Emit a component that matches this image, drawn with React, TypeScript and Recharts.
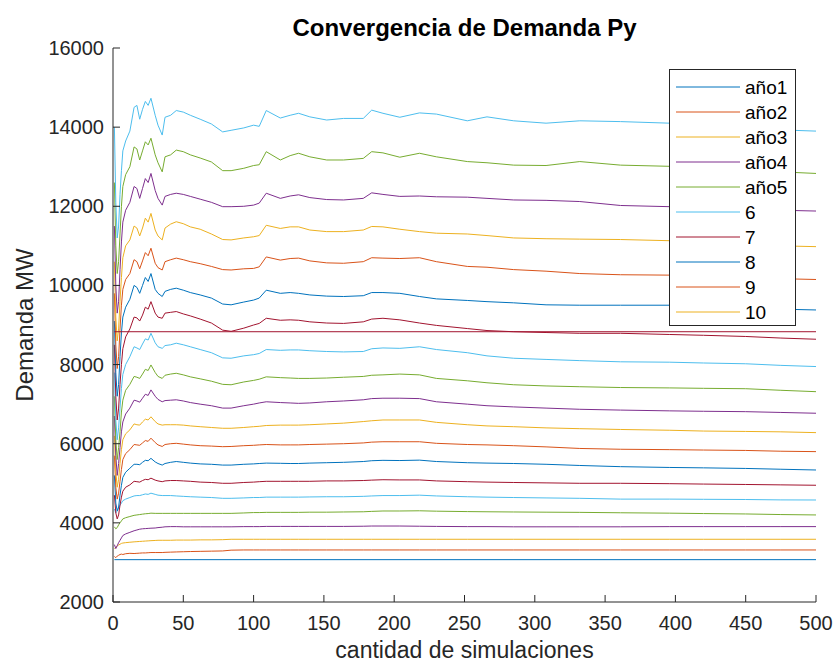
import React from "react";
import { LineChart, Line, XAxis, YAxis } from "recharts";

const SIMS = [
  1, 2, 3, 4, 5, 6, 7, 9, 12, 15, 17, 19, 21, 23, 25, 27, 30, 32, 35, 37, 41,
  45, 50, 55, 62, 70, 78, 84, 93, 100, 104, 109, 119, 126, 132, 140, 152, 164,
  178, 184, 192, 204, 218, 230, 252, 266, 285, 308, 332, 361, 396, 420, 450,
  475, 500,
];
const FLAT_SIMS = [1, 500];

const X_TICKS = [0, 50, 100, 150, 200, 250, 300, 350, 400, 450, 500];
const Y_TICKS = [2000, 4000, 6000, 8000, 10000, 12000, 14000, 16000];

// matlab default color order
const COLORS = ["#0072BD", "#D95319", "#EDB120", "#7E2F8E", "#77AC30", "#4DBEEE", "#A2142F"];
const LEGEND_NAMES = ["año1", "año2", "año3", "año4", "año5", "6", "7", "8", "9", "10"];

const y01 = [3070, 3070];
const y02 = [
  3150, 3120, 3160, 3180, 3200, 3210, 3200, 3220, 3230, 3225,
  3230, 3235, 3240, 3240, 3245, 3250, 3250, 3250, 3250, 3255,
  3260, 3265, 3270, 3275, 3280, 3285, 3290, 3310, 3315, 3315,
  3315, 3315, 3315, 3315, 3315, 3315, 3315, 3315, 3315, 3315,
  3315, 3315, 3315, 3315, 3315, 3315, 3315, 3315, 3315, 3315,
  3315, 3315, 3315, 3315, 3315,
];
const y03 = [
  3350, 3380, 3420, 3440, 3460, 3480, 3490, 3500, 3510, 3520,
  3525, 3530, 3535, 3540, 3545, 3550, 3555, 3560, 3560, 3560,
  3560, 3565, 3565, 3565, 3570, 3570, 3575, 3585, 3585, 3585,
  3585, 3585, 3585, 3585, 3585, 3585, 3585, 3585, 3585, 3585,
  3585, 3585, 3585, 3585, 3585, 3585, 3585, 3585, 3585, 3585,
  3585, 3585, 3585, 3585, 3585,
];
const y04 = [
  3450, 3350, 3420, 3500, 3560, 3620, 3680, 3720, 3760, 3800,
  3820, 3840, 3850, 3855, 3860, 3865, 3870, 3880, 3890, 3900,
  3905, 3905, 3900, 3900, 3900, 3900, 3900, 3900, 3905, 3905,
  3905, 3910, 3910, 3910, 3910, 3910, 3910, 3910, 3915, 3920,
  3920, 3920, 3915, 3910, 3905, 3905, 3900, 3900, 3900, 3900,
  3905, 3905, 3905, 3905, 3905,
];
const y05 = [
  3900, 3850, 3880, 3950, 4000, 4050, 4100, 4130, 4160, 4190,
  4200, 4210, 4220, 4230, 4235, 4245, 4240, 4240, 4240, 4240,
  4240, 4240, 4240, 4240, 4240, 4240, 4240, 4240, 4250, 4260,
  4260, 4265, 4265, 4265, 4265, 4270, 4270, 4275, 4280, 4290,
  4300, 4300, 4305, 4295, 4285, 4280, 4275, 4270, 4265, 4255,
  4245, 4235, 4225, 4210, 4200,
];
const y06 = [
  4350, 4250, 4300, 4380, 4450, 4500, 4560, 4600, 4640, 4680,
  4690, 4690, 4710, 4730, 4720, 4750, 4720, 4700, 4690, 4690,
  4690, 4680, 4670, 4660, 4650, 4640, 4620, 4620, 4630, 4640,
  4640, 4650, 4650, 4650, 4650, 4655, 4660, 4660, 4670, 4680,
  4690, 4690, 4700, 4680, 4660, 4650, 4640, 4630, 4620, 4600,
  4600, 4595, 4590, 4580, 4578,
];
const y07 = [
  4700, 4250, 4100, 4200, 4450, 4650, 4800, 4900, 4960, 5050,
  5040, 5030, 5070, 5100, 5090, 5130, 5080, 5060, 5040, 5060,
  5070, 5070, 5060, 5050, 5030, 5020, 5000, 5000, 5020, 5030,
  5040, 5050, 5050, 5050, 5050, 5050, 5060, 5060, 5070, 5080,
  5090, 5085, 5085, 5060, 5040, 5030, 5020, 5010, 5000, 5000,
  4990, 4980, 4970, 4960, 4950,
];
const y08 = [
  5200, 4500, 4300, 4400, 4700, 4950, 5150, 5280, 5380, 5480,
  5480, 5470, 5530, 5580, 5570, 5630, 5540, 5500, 5460, 5500,
  5530, 5550, 5530, 5510, 5490, 5480, 5460, 5460, 5480, 5490,
  5500, 5510, 5505, 5500, 5500, 5510, 5520, 5530, 5550, 5570,
  5580, 5575, 5585, 5550, 5520, 5510, 5500, 5480, 5450, 5420,
  5400, 5390, 5375, 5355, 5336,
];
const y09 = [
  5700, 4900, 4600, 4750, 5050, 5350, 5600, 5750, 5850, 5980,
  5970, 5960, 6020, 6080, 6060, 6140, 6030, 5970, 5930, 5980,
  6000, 6010, 5990, 5970, 5950, 5940, 5925, 5930, 5950, 5960,
  5970, 5980, 5970, 5970, 5970, 5980, 5990, 6000, 6020, 6040,
  6050, 6050, 6050, 6010, 5980, 5970, 5950, 5920, 5880, 5860,
  5850, 5840, 5830, 5810, 5800,
];
const y10 = [
  6200, 5300, 4900, 5100, 5500, 5850, 6100, 6250, 6350, 6500,
  6480, 6470, 6550, 6620, 6600, 6680, 6560, 6500, 6470, 6480,
  6480, 6480, 6470, 6450, 6430, 6410, 6390, 6390, 6410, 6430,
  6440, 6460, 6470, 6470, 6470, 6480, 6500, 6520, 6560, 6580,
  6600, 6600, 6600, 6540, 6480, 6450, 6430, 6400, 6380, 6360,
  6340, 6320, 6310, 6300, 6280,
];
const y11 = [
  6700, 5700, 5200, 5500, 5900, 6300, 6550, 6750, 6900, 7100,
  7080, 7050, 7150, 7250, 7220, 7360, 7200, 7120, 7060, 7090,
  7100, 7110, 7080, 7040, 7000, 6960, 6900, 6900, 6960, 7000,
  7030, 7060, 7040, 7030, 7020, 7030, 7060, 7080, 7110, 7140,
  7150, 7150, 7140, 7060, 7000, 6960, 6930, 6900, 6870, 6850,
  6830, 6820, 6810, 6790, 6770,
];
const y12 = [
  7200, 6100, 5600, 5900, 6300, 6800, 7100, 7350, 7500, 7700,
  7680, 7650, 7760, 7880, 7850, 7990, 7800, 7700, 7650, 7730,
  7760, 7780, 7740, 7690, 7640, 7580, 7500, 7490, 7560, 7600,
  7630, 7690, 7670, 7660, 7650, 7650, 7660, 7680, 7700, 7730,
  7740, 7760, 7740, 7650, 7590, 7540, 7490, 7460, 7440, 7420,
  7410, 7400, 7390, 7350, 7315,
];
const y13 = [
  7800, 6600, 6100, 6400, 6900, 7400, 7750, 8000, 8200, 8450,
  8420, 8380, 8520, 8650, 8620, 8790, 8550, 8450, 8410, 8480,
  8500, 8540, 8500, 8450, 8380, 8300, 8170, 8160, 8220, 8250,
  8280, 8380, 8360, 8370, 8370, 8350, 8330, 8320, 8330, 8400,
  8420, 8410, 8450, 8380, 8300, 8220, 8160, 8130, 8100, 8070,
  8060, 8040, 8020, 7980, 7950,
];
const y14 = [
  8500, 7200, 6600, 6900, 7500, 8000, 8400, 8700, 8900, 9200,
  9180, 9100, 9250, 9450, 9400, 9590, 9300, 9200, 9170, 9300,
  9320, 9340, 9280, 9230, 9150, 9050, 8870, 8840, 8920, 9000,
  9040, 9170, 9120, 9130, 9120, 9080, 9050, 9040, 9080, 9150,
  9170, 9130, 9050, 8990, 8910, 8860, 8830, 8810, 8790, 8790,
  8760, 8740, 8710, 8670, 8640,
];
const y15 = [
  9100, 7800, 7200, 7500, 8200, 8800, 9200, 9450, 9650, 10000,
  9950, 9800, 10000, 10200, 10100, 10300, 9900, 9800, 9720, 9850,
  9900, 9930, 9880, 9820, 9760, 9680, 9530, 9510, 9580, 9630,
  9680, 9880, 9800, 9820, 9800, 9760, 9730, 9720, 9740, 9820,
  9820, 9800, 9720, 9660, 9620, 9590, 9560, 9510, 9500, 9500,
  9500, 9460, 9430, 9400, 9380,
];
const y16 = [
  9800, 8500, 7900, 8200, 8900, 9500, 9900, 10150, 10300, 10650,
  10600, 10420, 10620, 10830, 10750, 10940, 10560, 10450, 10390, 10600,
  10650, 10690, 10650, 10600, 10550, 10480, 10400, 10390, 10420, 10430,
  10470, 10720, 10640, 10680, 10690, 10620, 10570, 10560, 10600, 10700,
  10690, 10680, 10700, 10600, 10480, 10460, 10400, 10360, 10300, 10270,
  10260, 10230, 10200, 10170, 10150,
];
const y17 = [
  10600, 9200, 8600, 8900, 9600, 10200, 10700, 11000, 11150, 11500,
  11450, 11250, 11450, 11700, 11600, 11820, 11400, 11250, 11150, 11450,
  11550, 11610, 11560, 11480, 11420, 11300, 11160, 11150, 11200, 11230,
  11260, 11520, 11440, 11480, 11480, 11400, 11360, 11360, 11400, 11490,
  11480, 11420, 11360, 11320, 11300, 11260, 11200, 11180, 11170, 11160,
  11130, 11080, 11040, 11000, 10980,
];
const y18 = [
  11500, 10000, 9300, 9600, 10400, 11100, 11600, 11900, 12100, 12500,
  12450, 12200, 12450, 12700, 12600, 12830, 12400, 12200, 12030, 12250,
  12300, 12330, 12300, 12250, 12180, 12100, 11990, 11990, 12000, 12030,
  12080, 12330, 12200, 12260, 12290, 12220, 12170, 12160, 12200, 12340,
  12300, 12250, 12260, 12240, 12230, 12200, 12160, 12150, 12120, 12020,
  11990, 11960, 11930, 11900, 11880,
];
const y19 = [
  12600, 11000, 10300, 10600, 11300, 12000, 12500, 12800, 13000, 13500,
  13450, 13170, 13400, 13630, 13550, 13720, 13300, 13100, 12870, 13250,
  13300, 13420, 13380, 13300, 13220, 13120, 12900, 12900, 12960, 13030,
  13050, 13380, 13170, 13280, 13340, 13250, 13170, 13170, 13210, 13380,
  13350, 13240, 13340, 13250, 13130, 13100, 13040, 13030, 13130, 13040,
  13010, 12960, 12920, 12870, 12830,
];
const y20 = [
  14000, 12100, 11200, 11500, 12300, 12900, 13400, 13650, 13900, 14500,
  14550, 14200, 14450, 14650, 14550, 14730, 14300, 14050, 13800, 14250,
  14300, 14420, 14380, 14300, 14200, 14080, 13880, 13920, 13980, 14050,
  14020, 14420, 14230, 14300, 14350, 14260, 14180, 14220, 14220, 14430,
  14350, 14250, 14360, 14330, 14160, 14260, 14160, 14100, 14160, 14140,
  14100, 14050, 13980, 13930, 13900,
];
const y21 = [8830, 8830];

const SERIES = [
  y01, y02, y03, y04, y05, y06, y07, y08, y09, y10, y11,
  y12, y13, y14, y15, y16, y17, y18, y19, y20, y21,
];

const INK = "#262626";
const FONT = "'Liberation Sans', Arial, Helvetica, sans-serif";

const toRows = (vals: number[]) => {
  const xs = vals.length === SIMS.length ? SIMS : FLAT_SIMS;
  return xs.map((x, i) => ({ x, y: vals[i] }));
};

const BottomTick = ({ x, y, payload }: any) => (
  <g>
    <line x1={x} y1={y} x2={x} y2={y - 7} stroke={INK} />
    <text x={x} y={y + 28} textAnchor="middle" fill={INK} fontSize={20} fontFamily={FONT}>
      {payload.value}
    </text>
  </g>
);

const LeftTick = ({ x, y, payload }: any) => (
  <g>
    <line x1={x} y1={y} x2={x + 7} y2={y} stroke={INK} />
    <text x={x - 9} y={y + 7} textAnchor="end" fill={INK} fontSize={20} fontFamily={FONT}>
      {payload.value}
    </text>
  </g>
);

const TopTick = ({ x, y }: any) => <line x1={x} y1={y} x2={x} y2={y + 7} stroke={INK} />;
const RightTick = ({ x, y }: any) => <line x1={x} y1={y} x2={x - 7} y2={y} stroke={INK} />;

const App = () => {
  return (
    <div
      style={{
        position: "absolute",
        left: 0,
        top: 0,
        width: 835,
        height: 666,
        background: "#fff",
        fontFamily: FONT,
      }}
    >
      <LineChart width={835} height={666} margin={{ top: 48, right: 19, bottom: 0, left: 0 }}>
        <XAxis
          dataKey="x"
          type="number"
          domain={[0, 500]}
          ticks={X_TICKS}
          interval={0}
          height={64}
          tickSize={0}
          tickMargin={0}
          tickLine={false}
          axisLine={{ stroke: INK }}
          tick={<BottomTick />}
          allowDataOverflow
        />
        <XAxis
          xAxisId="top"
          orientation="top"
          dataKey="x"
          type="number"
          domain={[0, 500]}
          ticks={X_TICKS}
          interval={0}
          height={0}
          tickSize={0}
          tickMargin={0}
          tickLine={false}
          axisLine={{ stroke: INK }}
          tick={<TopTick />}
          allowDataOverflow
        />
        <YAxis
          type="number"
          domain={[2000, 16000]}
          ticks={Y_TICKS}
          interval={0}
          width={113}
          tickSize={0}
          tickMargin={0}
          tickLine={false}
          axisLine={{ stroke: INK }}
          tick={<LeftTick />}
          allowDataOverflow
        />
        <YAxis
          yAxisId="right"
          orientation="right"
          type="number"
          domain={[2000, 16000]}
          ticks={Y_TICKS}
          interval={0}
          width={0}
          tickSize={0}
          tickMargin={0}
          tickLine={false}
          axisLine={{ stroke: INK }}
          tick={<RightTick />}
          allowDataOverflow
        />
        {SERIES.map((vals, i) => (
          <Line
            key={`s-${i}`}
            data={toRows(vals)}
            dataKey="y"
            type="linear"
            stroke={COLORS[i % COLORS.length]}
            strokeWidth={1}
            dot={false}
            activeDot={false}
            isAnimationActive={false}
          />
        ))}
      </LineChart>

      {/* title, axis labels and legend box, laid over the chart */}
      <svg
        width={835}
        height={666}
        style={{ position: "absolute", left: 0, top: 0, pointerEvents: "none" }}
      >
        <text x={464.5} y={36} textAnchor="middle" fontSize={24} fontWeight="bold" fill="#000" fontFamily={FONT}>
          Convergencia de Demanda Py
        </text>
        <text x={464.5} y={658} textAnchor="middle" fontSize={23} fill={INK} fontFamily={FONT}>
          cantidad de simulaciones
        </text>
        <text
          transform="rotate(-90)"
          x={-325}
          y={33}
          textAnchor="middle"
          fontSize={24}
          fill={INK}
          fontFamily={FONT}
        >
          Demanda MW
        </text>
        <rect x={669.5} y={69.5} width={126} height={256} fill="#fff" stroke={INK} strokeWidth={1} />
        {LEGEND_NAMES.map((name, i) => {
          const cy = 87 + i * 25;
          return (
            <g key={name}>
              <line x1={676} y1={cy} x2={740} y2={cy} stroke={COLORS[i % COLORS.length]} strokeWidth={1} />
              <text x={745} y={cy + 7} fontSize={19} fill="#000" fontFamily={FONT}>
                {name}
              </text>
            </g>
          );
        })}
      </svg>
    </div>
  );
};

export default App;
